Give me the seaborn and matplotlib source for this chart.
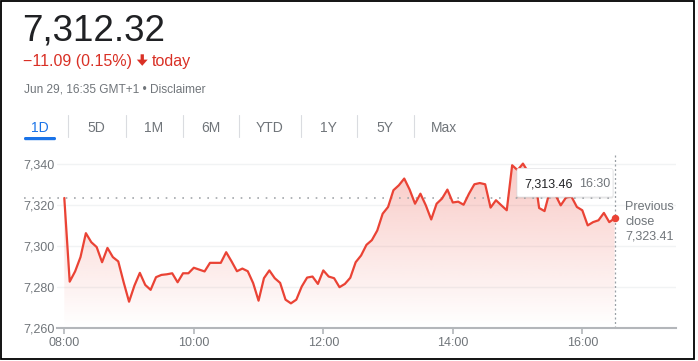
import numpy as np
import pandas as pd
import matplotlib
matplotlib.use("Agg")
import matplotlib.pyplot as plt
import seaborn as sns
from matplotlib.patches import Rectangle, FancyBboxPatch, Polygon
from matplotlib.lines import Line2D
from matplotlib.transforms import Affine2D

# ---------------- data ----------------
price = [
    7323.4, 7282.5, 7287.5, 7294.5, 7306.2, 7301.8, 7299.4, 7292.0, 7299.0, 7294.5,
    7292.4, 7282.2, 7272.7, 7280.6, 7286.8, 7280.9, 7278.5, 7284.7, 7285.8, 7286.1,
    7286.6, 7282.2, 7286.6, 7286.6, 7289.3, 7288.4, 7287.5, 7291.7, 7291.7, 7291.7,
    7296.9, 7292.4, 7287.6, 7288.9, 7287.6, 7281.8, 7273.2, 7284.2, 7288.0, 7284.2,
    7281.9, 7273.7, 7271.9, 7273.7, 7280.1, 7284.5, 7285.0, 7281.4, 7288.0, 7285.0,
    7284.2, 7279.8, 7281.4, 7284.4, 7292.0, 7295.3, 7300.5, 7302.8, 7307.5, 7315.7,
    7319.0, 7327.2, 7329.6, 7332.9, 7327.5, 7320.6, 7325.5, 7319.8, 7312.9, 7320.6,
    7323.1, 7327.5, 7321.2, 7321.6, 7320.1, 7325.5, 7330.1, 7330.7, 7330.1, 7318.7,
    7322.3, 7319.8, 7317.4, 7339.4, 7337.0, 7340.2, 7336.0, 7337.0, 7318.5, 7317.0,
    7327.0, 7325.0, 7319.8, 7323.7, 7324.0, 7319.0, 7317.4, 7310.0, 7311.6, 7312.5,
    7316.1, 7311.6, 7313.46,
]
start_hour = 8.0
step_minutes = 5
times = [start_hour + i * step_minutes / 60 for i in range(len(price))]

prev_close = 7323.41
headline_value = "7,312.32"
change_text = "\u221211.09 (0.15%)"
change_word = "today"
stamp_text = "Jun 29, 16:35 GMT+1 \u2022 Disclaimer"
tabs = ["1D", "5D", "1M", "6M", "YTD", "1Y", "5Y", "Max"]
y_ticks = [7260, 7280, 7300, 7320, 7340]
x_ticks = [8, 10, 12, 14, 16]
x_tick_labels = ["08:00", "10:00", "12:00", "14:00", "16:00"]
tooltip_value = "7,313.46"
tooltip_time = "16:30"
prev_close_label = ["Previous", "close", "7,323.41"]

# ---------------- style ----------------
RED = "#ea4335"
RED_TEXT = "#d93025"
GRAY = "#70757a"
DARK = "#202124"
BLUE = "#1a73e8"

sns.set_theme(style="white")
plt.rcParams["font.family"] = ["Liberation Sans", "DejaVu Sans"]

W, H = 698, 361
fig = plt.figure(figsize=(W / 100, H / 100), dpi=100)
fig.patch.set_facecolor("white")
T = Affine2D().scale(1, -1).translate(0, H)  # top-left pixel coords

# ---------------- chart axes ----------------
ax_l, ax_r, ax_t, ax_b = 57, 676, 155, 327.7
ax = fig.add_axes([ax_l / W, 1 - ax_b / H, (ax_r - ax_l) / W, (ax_b - ax_t) / H])
ax.set_facecolor("white")

df = pd.DataFrame({"time": times, "price": price})
px_per_hour = 64.75
x0 = start_hour - (64.3 - ax_l) / px_per_hour
x1 = start_hour + (ax_r - 64.3) / px_per_hour
y0 = 7260
y1 = 7260 + (ax_b - ax_t) / 2.046

# gradient fill under line
verts = [(times[0], y0)] + list(zip(times, price)) + [(times[-1], y0)]
poly = Polygon(verts, closed=True, facecolor="none", edgecolor="none")
ax.add_patch(poly)
n = 256
rgba = np.zeros((n, 1, 4))
rgba[..., :3] = matplotlib.colors.to_rgb(RED)
rgba[:, 0, 3] = np.linspace(0, 0.30, n)
im = ax.imshow(rgba, extent=[x0, x1, y0, y1], origin="lower", aspect="auto",
               zorder=2, interpolation="bilinear")
im.set_clip_path(poly)

sns.lineplot(data=df, x="time", y="price", ax=ax, color=RED, linewidth=1.6,
             zorder=5, legend=False)
ax.plot([times[-1]], [price[-1]], "o", ms=5.4, color=RED, zorder=6,
        markeredgewidth=0)

ax.set_xlim(x0, x1)
ax.set_ylim(y0, y1)
ax.set_xlabel("")
ax.set_ylabel("")
ax.set_yticks(y_ticks)
ax.set_yticklabels([f"{v:,}" for v in y_ticks])
ax.set_xticks(x_ticks)
ax.set_xticklabels(x_tick_labels)
ax.yaxis.grid(True, color="#f1f3f4", linewidth=1.0, zorder=1)
ax.xaxis.grid(False)
for s in ["left", "top", "right"]:
    ax.spines[s].set_visible(False)
ax.spines["bottom"].set_color("#b3b6ba")
ax.spines["bottom"].set_linewidth(1.5)
ax.spines["bottom"].set_zorder(7)
ax.tick_params(axis="x", length=4, width=1.2, color="#b3b6ba", pad=3,
               labelsize=9, labelcolor=GRAY, bottom=True)
ax.tick_params(axis="y", length=0, pad=2, labelsize=9, labelcolor=GRAY)

# previous close dotted line and current-time vertical line
ax.axhline(prev_close, xmin=(24 - ax_l) / (ax_r - ax_l), xmax=(612 - ax_l) / (ax_r - ax_l),
           color="#a3a7ab", linewidth=1.2, linestyle=(0, (1, 4)), clip_on=False, zorder=3)
ax.axvline(times[-1], color="#9aa0a6", linewidth=0.9, linestyle=(0, (1.6, 2)), zorder=3)

# previous close label
for k, line in enumerate(prev_close_label):
    fig.text(625, 210 + 14.8 * k, line, transform=T, fontsize=9, color=GRAY,
             ha="left", va="baseline")

# tooltip
fig.add_artist(FancyBboxPatch((516.5, 169.5), 97, 29, boxstyle="round,pad=0,rounding_size=2",
                              transform=T, facecolor="#000000", alpha=0.10,
                              edgecolor="none", zorder=9))
fig.add_artist(FancyBboxPatch((517, 168.5), 96, 28.5, boxstyle="round,pad=0,rounding_size=2",
                              transform=T, facecolor="white", edgecolor="#e6e7e9",
                              linewidth=0.6, zorder=10))
fig.text(524.5, 187.3, tooltip_value, transform=T, fontsize=9, color=DARK,
         ha="left", va="baseline", zorder=11)
fig.text(579.5, 187.3, tooltip_time, transform=T, fontsize=9, color=GRAY,
         ha="left", va="baseline", zorder=11)

# ---------------- header ----------------
fig.text(22.5, 40.5, headline_value, transform=T, fontsize=26.5, color=DARK,
         ha="left", va="baseline")
fig.text(23, 65.7, change_text, transform=T, fontsize=11.5, color=RED_TEXT,
         ha="left", va="baseline")
fig.add_artist(Polygon([(140.6, 54.3), (143.9, 54.3), (143.9, 59.6), (147.7, 59.6),
                        (142.25, 65.8), (136.8, 59.6), (140.6, 59.6)],
                       closed=True, transform=T, facecolor=RED_TEXT, edgecolor="none"))
fig.text(152, 65.7, change_word, transform=T, fontsize=11.5, color=RED_TEXT,
         ha="left", va="baseline")
fig.text(23.5, 92.3, stamp_text, transform=T, fontsize=8.6, color=GRAY,
         ha="left", va="baseline")

# tabs
tab_x = [40.3, 96.8, 153.7, 210.5, 269.5, 328.7, 385, 444]
sep_x = [68.3, 125.7, 182.7, 239.3, 301, 357.3, 414]
for i, (lab, xc) in enumerate(zip(tabs, tab_x)):
    fig.text(xc, 131.7, lab, transform=T, fontsize=10,
             color=BLUE if i == 0 else GRAY, ha="center", va="baseline")
for xs in sep_x:
    fig.add_artist(Line2D([xs, xs], [115, 136.7], transform=T, color="#dadce0",
                          linewidth=0.8))
fig.add_artist(FancyBboxPatch((24, 137), 32, 3.2, boxstyle="round,pad=0,rounding_size=1.5",
                              transform=T, facecolor=BLUE, edgecolor="none"))

# frame
fig.add_artist(Rectangle((0.6, 0.6), 693.4, 358.8, transform=T, fill=False,
                         edgecolor="black", linewidth=1.3, zorder=20))

fig.savefig("out.png", dpi=100, facecolor="white")
